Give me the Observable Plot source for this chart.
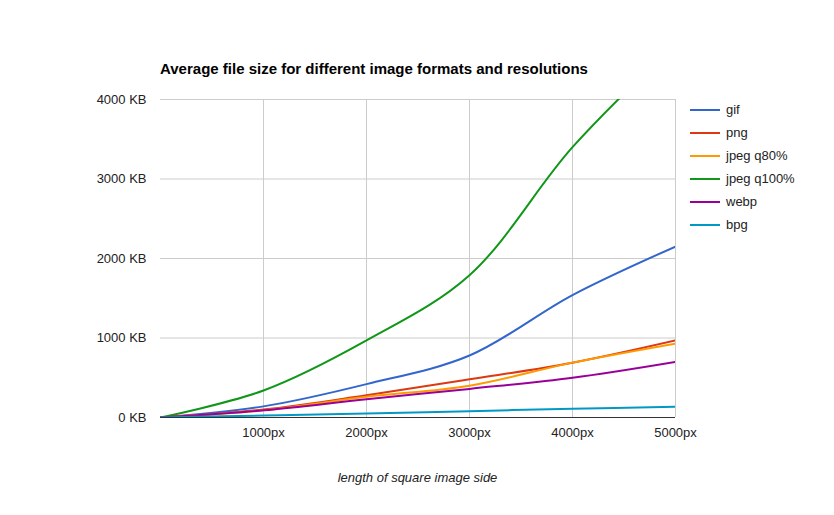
<!DOCTYPE html>
<html><head><meta charset="utf-8">
<script src="https://cdn.jsdelivr.net/npm/d3@7"></script>
<script src="https://cdn.jsdelivr.net/npm/@observablehq/plot@0.6"></script>
<style>
body{margin:0;background:#fff;font-family:Arial,"Liberation Sans",sans-serif;}
#wrap{position:relative;width:834px;height:515px;}
#title{position:absolute;left:160px;top:60px;font-size:15px;font-weight:bold;color:#000;}
#xlabel{position:absolute;left:160px;width:515px;top:470px;text-align:center;font-size:13px;font-style:italic;color:#222;}
#legend{position:absolute;left:690px;top:98px;font-size:13px;color:#222;}
#legend div{display:flex;align-items:center;height:23px;}
#legend span.sw{display:inline-block;width:30px;height:2px;margin-right:6px;}
</style></head><body>
<div id="wrap"><div id="chart"></div><div id="title">Average file size for different image formats and resolutions</div><div id="xlabel">length of square image side</div><div id="legend"></div></div>
<script>
const sides = [0, 1000, 2000, 3000, 4000, 5000];
const seriesNames = ["gif", "png", "jpeg q80%", "jpeg q100%", "webp", "bpg"];
const colors = ["#3366cc", "#dc3912", "#ff9900", "#109618", "#990099", "#0099c6"];
const gif = [0, 140, 420, 780, 1540, 2150];
const png = [0, 100, 280, 480, 690, 970];
const jpeg80 = [0, 90, 260, 400, 690, 930];
const jpeg100 = [0, 340, 970, 1790, 3400, 4700];
const webp = [0, 90, 230, 360, 500, 700];
const bpg = [0, 25, 50, 80, 110, 135];
const xTicks = [1000, 2000, 3000, 4000, 5000];
const yTicks = [0, 1000, 2000, 3000, 4000];

const all = [gif, png, jpeg80, jpeg100, webp, bpg];
const data = [];
all.forEach((vals, i) => vals.forEach((v, j) => data.push({series: seriesNames[i], x: sides[j], y: v})));

const plot = Plot.plot({
  width: 834, height: 515,
  marginLeft: 160, marginRight: 159, marginTop: 99, marginBottom: 98,
  style: {fontFamily: "Arial, 'Liberation Sans', sans-serif", fontSize: "13px", color: "#222"},
  x: {domain: [0, 5000], ticks: xTicks, tickFormat: d => d + "px", tickSize: 0, tickPadding: 10, label: null},
  y: {domain: [0, 4000], ticks: yTicks, tickFormat: d => d + " KB", tickSize: 0, tickPadding: 14, label: null},
  color: {domain: seriesNames, range: colors},
  marks: [
    Plot.gridX(xTicks, {stroke: "#ccc", strokeOpacity: 1}),
    Plot.gridY(yTicks, {stroke: "#ccc", strokeOpacity: 1}),
    Plot.axisX({ticks: xTicks, tickFormat: d => d + "px", tickSize: 0, tickPadding: 10, label: null}),
    Plot.axisY({ticks: yTicks, tickFormat: d => d + " KB", tickSize: 0, tickPadding: 14, label: null}),
    Plot.line(data, {x: "x", y: "y", z: "series", stroke: "series", strokeWidth: 2, curve: "catmull-rom", clip: true}),
    Plot.ruleY([0], {stroke: "#333"})
  ]
});
document.getElementById("chart").appendChild(plot);
const lg = document.getElementById("legend");
seriesNames.forEach((s, i) => {
  const d = document.createElement("div");
  d.innerHTML = `<span class="sw" style="background:${colors[i]}"></span>${s}`;
  lg.appendChild(d);
});
</script></body></html>
